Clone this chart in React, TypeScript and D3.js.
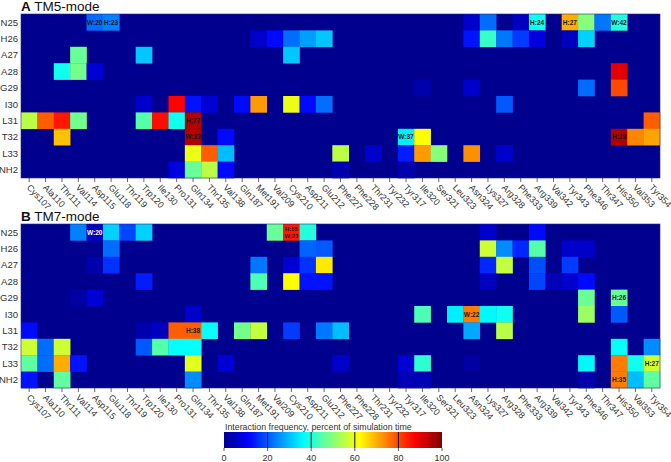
import React from "react";
import * as d3 from "d3";

const rows = ["N25", "H26", "A27", "A28", "G29", "I30", "L31", "T32", "L33", "NH2"];
const residues = [
  "Cys107", "Ala110", "Thr111", "Val114", "Asp115", "Glu118", "Thr119", "Trp120", "Ile130", "Pro131",
  "Gln134", "Thr135", "Val138", "Gln187", "Met191", "Val209", "Cys210", "Asp211", "Glu212", "Phe227",
  "Phe228", "Thr231", "Tyr232", "Tyr317", "Ile320", "Ser321", "Leu323", "Asn324", "Lys327", "Arg328",
  "Phe333", "Arg339", "Val342", "Tyr343", "Phe346", "Thr347", "His350", "Val353", "Tyr354",
];

// [peptide residue, receptor residue, percent of simulation time]
const tm5Values: [string, string, number][] = [
  ["N25", "Asp115", 22], ["N25", "Glu118", 24], ["N25", "Asn324", 6], ["N25", "Lys327", 22], ["N25", "Phe333", 5],
  ["N25", "Arg339", 38], ["N25", "Tyr343", 70], ["N25", "Phe346", 50], ["N25", "Thr347", 23], ["N25", "His350", 40],
  ["H26", "Met191", 6], ["H26", "Val209", 12], ["H26", "Cys210", 22], ["H26", "Asp211", 27], ["H26", "Glu212", 31],
  ["H26", "Asn324", 13], ["H26", "Lys327", 42], ["H26", "Arg328", 23], ["H26", "Phe333", 17], ["H26", "Arg339", 8],
  ["H26", "Tyr343", 5], ["H26", "Phe346", 32],
  ["A27", "Val114", 47], ["A27", "Trp120", 31], ["A27", "Cys210", 31],
  ["A28", "Thr111", 38], ["A28", "Val114", 48], ["A28", "Asp115", 7], ["A28", "His350", 90],
  ["G29", "Ile320", 3], ["G29", "Asn324", 6], ["G29", "Phe346", 22], ["G29", "His350", 80],
  ["I30", "Trp120", 6], ["I30", "Pro131", 87], ["I30", "Gln134", 13], ["I30", "Thr135", 7], ["I30", "Gln187", 12],
  ["I30", "Met191", 72], ["I30", "Cys210", 60], ["I30", "Asp211", 12], ["I30", "Glu212", 22], ["I30", "Arg328", 20],
  ["L31", "Cys107", 55], ["L31", "Ala110", 78], ["L31", "Thr111", 85], ["L31", "Val114", 48], ["L31", "Trp120", 45],
  ["L31", "Ile130", 86], ["L31", "Pro131", 38], ["L31", "Gln134", 95], ["L31", "Tyr354", 78],
  ["T32", "Thr111", 68], ["T32", "Gln134", 95], ["T32", "Val138", 12], ["T32", "Tyr317", 35], ["T32", "Ile320", 62],
  ["T32", "His350", 95], ["T32", "Val353", 74], ["T32", "Tyr354", 71],
  ["L33", "Gln134", 60], ["L33", "Thr135", 78], ["L33", "Val138", 30], ["L33", "Phe227", 55], ["L33", "Thr231", 6],
  ["L33", "Tyr317", 14], ["L33", "Ile320", 72], ["L33", "Ser321", 50], ["L33", "Asn324", 73], ["L33", "Arg328", 6],
  ["NH2", "Pro131", 8], ["NH2", "Gln134", 47], ["NH2", "Thr135", 55], ["NH2", "Val138", 12], ["NH2", "Phe227", 3],
  ["NH2", "Tyr317", 3],
];

const tm7Values: [string, string, number][] = [
  ["N25", "Val114", 24], ["N25", "Asp115", 5], ["N25", "Glu118", 32], ["N25", "Thr119", 18], ["N25", "Trp120", 32],
  ["N25", "Val209", 47], ["N25", "Cys210", 85], ["N25", "Asp211", 40], ["N25", "Lys327", 6], ["N25", "Arg339", 12],
  ["H26", "Glu118", 22], ["H26", "Asp211", 21], ["H26", "Glu212", 20], ["H26", "Lys327", 57], ["H26", "Arg328", 25],
  ["H26", "Phe333", 15], ["H26", "Arg339", 45], ["H26", "Tyr343", 6], ["H26", "Phe346", 6],
  ["A27", "Asp115", 3], ["A27", "Glu118", 16], ["A27", "Met191", 23], ["A27", "Cys210", 7], ["A27", "Asp211", 16],
  ["A27", "Glu212", 64], ["A27", "Lys327", 15], ["A27", "Arg328", 56], ["A27", "Arg339", 19], ["A27", "Tyr343", 17],
  ["A28", "Trp120", 14], ["A28", "Met191", 44], ["A28", "Cys210", 62], ["A28", "Asp211", 13], ["A28", "Glu212", 13],
  ["A28", "Lys327", 5], ["A28", "Arg339", 18], ["A28", "Val342", 4], ["A28", "Tyr343", 6], ["A28", "Phe346", 12],
  ["G29", "Val114", 2], ["G29", "Asp115", 7], ["G29", "Phe346", 47], ["G29", "His350", 47],
  ["I30", "Gln134", 6], ["I30", "Ile320", 44], ["I30", "Leu323", 35], ["I30", "Asn324", 75], ["I30", "Lys327", 36],
  ["I30", "Arg328", 38], ["I30", "Phe346", 52], ["I30", "His350", 20],
  ["L31", "Cys107", 12], ["L31", "Trp120", 3], ["L31", "Ile130", 5], ["L31", "Pro131", 78], ["L31", "Gln134", 78],
  ["L31", "Thr135", 37], ["L31", "Gln187", 48], ["L31", "Met191", 56], ["L31", "Cys210", 17], ["L31", "Glu212", 23],
  ["L31", "Phe227", 30], ["L31", "Asn324", 28], ["L31", "Arg328", 55],
  ["T32", "Cys107", 57], ["T32", "Ala110", 22], ["T32", "Thr111", 57], ["T32", "Trp120", 20], ["T32", "Ile130", 45],
  ["T32", "Pro131", 37], ["T32", "Gln134", 37], ["T32", "His350", 37], ["T32", "Tyr354", 25],
  ["L33", "Cys107", 46], ["L33", "Ala110", 22], ["L33", "Thr111", 70], ["L33", "Val114", 13], ["L33", "Gln134", 59],
  ["L33", "Val138", 7], ["L33", "Phe227", 6], ["L33", "Tyr317", 7], ["L33", "Ile320", 41], ["L33", "Asn324", 2],
  ["L33", "Phe346", 36], ["L33", "His350", 75], ["L33", "Val353", 38], ["L33", "Tyr354", 57],
  ["NH2", "Cys107", 13], ["NH2", "Thr111", 46], ["NH2", "Gln134", 25], ["NH2", "Tyr317", 4], ["NH2", "Ile320", 4],
  ["NH2", "Phe346", 3], ["NH2", "His350", 75], ["NH2", "Val353", 30], ["NH2", "Tyr354", 46],
];

// [peptide residue, receptor residue, label lines]
const tm5Notes: [string, string, string[]][] = [
  ["N25", "Asp115", ["W:20"]], ["N25", "Glu118", ["H:23"]], ["N25", "Arg339", ["H:24"]], ["N25", "Tyr343", ["H:27"]],
  ["N25", "His350", ["W:42"]], ["L31", "Gln134", ["H:77"]], ["T32", "Gln134", ["W:33"]], ["T32", "Tyr317", ["W:37"]],
  ["T32", "His350", ["H:28"]],
];
const tm7Notes: [string, string, string[]][] = [
  ["N25", "Asp115", ["W:20"]], ["N25", "Cys210", ["H:55", "W:23"]], ["L31", "Gln134", ["H:38"]],
  ["I30", "Asn324", ["W:22"]], ["G29", "His350", ["H:26"]], ["L33", "Tyr354", ["H:27"]], ["NH2", "His350", ["H:35"]],
];

const colorTicks = [0, 20, 40, 60, 80, 100];

const FONT = "'Liberation Sans', Arial, sans-serif";

function jet(v: number): string {
  const t0 = Math.max(0, Math.min(1, v / 100));
  const t = 0.015 + t0 * 0.985;
  const c = (x: number) => Math.max(0, Math.min(1, x));
  const r = c(1.5 - Math.abs(4 * t - 3));
  const g = c(1.5 - Math.abs(4 * t - 2));
  const b = c(1.5 - Math.abs(4 * t - 1));
  return d3.rgb(r * 255, g * 255, b * 255).formatHex();
}

const X0 = 21;
const X1 = 660;
const x = d3.scaleBand<string>().domain(residues).range([X0, X1]).padding(0);

function Panel({ top, letter, title, values, notes }: {
  top: number; letter: string; title: string;
  values: [string, string, number][]; notes: [string, string, string[]][];
}) {
  const height = 164;
  const y = d3.scaleBand<string>().domain(rows).range([top, top + height]).padding(0);
  const bottom = top + height;
  const bw = x.bandwidth();
  const bh = y.bandwidth();
  return (
    <g>
      <text x={X0} y={top - 3.5} fontFamily={FONT} fontSize={13.5} fill="#111">
        <tspan fontWeight="bold">{letter}</tspan>
        <tspan dx={3.5}>{title}</tspan>
      </text>
      <rect x={X0} y={top} width={X1 - X0} height={height} fill={jet(0)} />
      {values.map(([r, c, v], i) => (
        <rect key={i} x={x(c)!} y={y(r)!} width={bw + 0.3} height={bh + 0.3} fill={jet(v)} />
      ))}
      <rect x={X0} y={top} width={X1 - X0} height={height} fill="none" stroke="#2a2a70" strokeWidth={0.6} />
      {notes.map(([r, c, lines], i) => {
        const white = letter === "B" && c === "Asp115";
        const cx = x(c)! + bw / 2;
        const cy = y(r)! + bh / 2;
        if (lines.length === 1) {
          return (
            <text key={i} x={cx} y={cy + 2.3} textAnchor="middle" fontFamily={FONT} fontSize={6.5}
              fontWeight="bold" fill={white ? "#ffffff" : "#1a1a1a"}>{lines[0]}</text>
          );
        }
        return (
          <g key={i}>
            {lines.map((l, k) => (
              <text key={k} x={cx} y={y(r)! + 6.5 + k * 7} textAnchor="middle" fontFamily={FONT} fontSize={5.8}
                fontWeight="bold" fill="#1a1a1a">{l}</text>
            ))}
          </g>
        );
      })}
      {rows.map((r) => (
        <text key={r} x={18} y={y(r)! + bh / 2 + 3.3} textAnchor="end" fontFamily={FONT} fontSize={9.5} fill="#333">
          {r}
        </text>
      ))}
      {residues.map((c) => {
        const cx = x(c)! + bw / 2;
        return (
          <g key={c}>
            <line x1={cx} x2={cx} y1={bottom} y2={bottom + 4} stroke="#444" strokeWidth={0.8} />
            <text transform={`translate(${cx - 3},${bottom + 10}) rotate(47)`} fontFamily={FONT} fontSize={9}
              fill="#333">{c}</text>
          </g>
        );
      })}
    </g>
  );
}

function ColorBar() {
  const cx = d3.scaleLinear().domain([0, 100]).range([224, 442]);
  const top = 432;
  const h = 16;
  const stops = d3.range(0, 101, 2);
  return (
    <g>
      <defs>
        <linearGradient id="jetGrad" x1="0" x2="1" y1="0" y2="0">
          {stops.map((s) => (
            <stop key={s} offset={`${s}%`} stopColor={jet(s)} />
          ))}
        </linearGradient>
      </defs>
      <text x={225} y={429.5} fontFamily={FONT} fontSize={8.8} fill="#333">
        Interaction frequency, percent of simulation time
      </text>
      <rect x={cx(0)} y={top} width={cx(100) - cx(0)} height={h} fill="url(#jetGrad)" />
      {colorTicks.map((t) => (
        <g key={t}>
          {t > 0 && t < 100 && (
            <line x1={cx(t)} x2={cx(t)} y1={top} y2={top + h} stroke="#111" strokeWidth={1} />
          )}
          <line x1={cx(t)} x2={cx(t)} y1={top + h} y2={top + h + 3} stroke="#333" strokeWidth={0.8} />
          <text x={cx(t)} y={461} textAnchor="middle" fontFamily={FONT} fontSize={9} fill="#333">{t}</text>
        </g>
      ))}
    </g>
  );
}

export default function App() {
  return (
    <div>
      <style>{"body{margin:0}"}</style>
      <svg width={671} height={462} style={{ display: "block", background: "#fff" }}>
        <Panel top={14} letter="A" title="TM5-mode" values={tm5Values} notes={tm5Notes} />
        <Panel top={224} letter="B" title="TM7-mode" values={tm7Values} notes={tm7Notes} />
        <ColorBar />
      </svg>
    </div>
  );
}
